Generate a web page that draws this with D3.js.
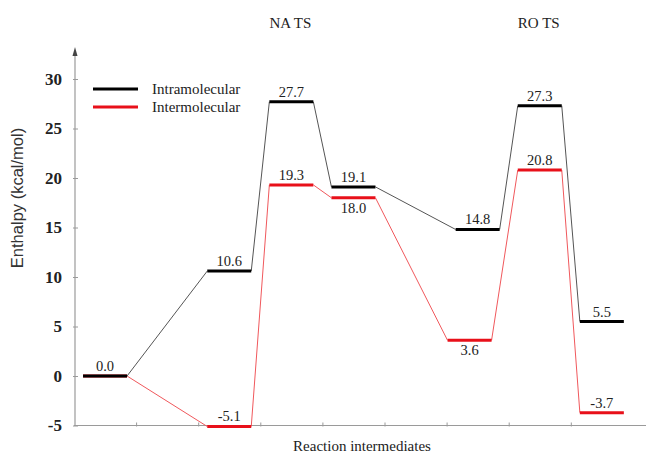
<!DOCTYPE html>
<html>
<head>
<meta charset="utf-8">
<script src="https://cdn.jsdelivr.net/npm/d3@7"></script>
<style>
  html, body { margin: 0; padding: 0; background: #fff; }
  svg { display: block; }
</style>
</head>
<body>
<svg id="chart" width="646" height="455"></svg>
<script>
// Reaction coordinate of each stationary point and its enthalpy (kcal/mol)
const stageNames = ["Reactant", "Int 1", "NA TS", "Int 2", "Int 3", "RO TS", "Product"];
const intraStages = [0, 2, 3, 4, 6, 7, 8];
const interStages = [0, 2, 3, 4, 5.87, 7, 8];
const intraValues = [0.0, 10.6, 27.7, 19.1, 14.8, 27.3, 5.5];
const interValues = [0.0, -5.1, 19.3, 18.0, 3.6, 20.8, -3.7];
// where each value label sits relative to its level
const intraLabelSide = ["above", "above", "above", "above", "above", "above", "above"];
const interLabelSide = ["none", "above", "above", "below", "below", "above", "above"];
const yTicks = [-5, 0, 5, 10, 15, 20, 25, 30];
const xTicks = [0.5, 1.5, 2.5, 3.5, 4.5, 5.5, 6.5, 7.5];
const seriesNames = ["Intramolecular", "Intermolecular"];
const tsStages = [3, 7];
const tsNames = ["NA TS", "RO TS"];

const SERIF = '"Liberation Serif"';
const SANS = '"Liberation Sans"';

const svg = d3.select("#chart");

const x = d3.scaleLinear().domain([-0.5, 8.5]).range([74, 632.9]);
const y = d3.scaleLinear().domain([-5, 30]).range([425.5, 79]);
const halfW = 22;

const axisColor = "#9a9a9a";

// axes
const yAxis = svg.append("g")
  .attr("transform", `translate(${x(-0.5) + 1},0)`)
  .call(d3.axisLeft(y).tickValues(yTicks).tickSize(3).tickSizeOuter(0).tickPadding(10)
    .tickFormat(d => String(d)));
yAxis.select(".domain").remove();
yAxis.attr("font-family", null).attr("font-size", null);
yAxis.selectAll(".tick line").attr("stroke", axisColor).attr("x1", 3).attr("x2", -2);
yAxis.selectAll(".tick text")
  .style("font-family", SERIF).style("font-weight", "bold").style("font-size", "17px")
  .attr("fill", "#222");

const xAxis = svg.append("g")
  .attr("transform", `translate(0,${y(-5)})`)
  .call(d3.axisBottom(x).tickValues(xTicks).tickSize(3).tickSizeOuter(0).tickFormat(""));
xAxis.select(".domain").remove();
xAxis.selectAll(".tick line").attr("stroke", axisColor).attr("y1", -3).attr("y2", 1);

svg.append("line")
  .attr("x1", x(-0.5) + 1).attr("x2", x(-0.5) + 1)
  .attr("y1", y(-5)).attr("y2", 52)
  .attr("stroke", axisColor).attr("stroke-width", 1.2);
svg.append("path")
  .attr("d", `M${x(-0.5) + 1},47 L${x(-0.5) - 1.5},56 L${x(-0.5) + 3.5},56 Z`)
  .attr("fill", "#444");
svg.append("line")
  .attr("x1", x(-0.5)).attr("x2", 646)
  .attr("y1", y(-5)).attr("y2", y(-5))
  .attr("stroke", axisColor).attr("stroke-width", 1.2);

// axis titles
svg.append("text")
  .attr("transform", "translate(23,198) rotate(-90)")
  .attr("text-anchor", "middle")
  .style("font-family", SANS).style("font-size", "16.5px")
  .attr("fill", "#333")
  .text("Enthalpy (kcal/mol)");

svg.append("text")
  .attr("x", 362).attr("y", 451)
  .attr("text-anchor", "middle")
  .style("font-family", SERIF).style("font-size", "15px")
  .attr("fill", "#222")
  .text("Reaction intermediates");

// transition state headings
svg.selectAll(".ts").data(tsStages).enter().append("text")
  .attr("x", s => x(s) - 1).attr("y", 28)
  .attr("text-anchor", "middle")
  .style("font-family", SERIF).style("font-size", "15px")
  .attr("fill", "#222")
  .text((s, i) => tsNames[i]);

// draws one energy profile: thin connectors, thick levels, value labels
function drawProfile(stages, values, sides, levelColor, linkColor) {
  const g = svg.append("g");
  const pts = stages.map((s, i) => ({ s, v: values[i], side: sides[i] }));
  for (let i = 0; i < pts.length - 1; i++) {
    g.append("line")
      .attr("x1", x(pts[i].s) + halfW).attr("y1", y(pts[i].v))
      .attr("x2", x(pts[i + 1].s) - halfW).attr("y2", y(pts[i + 1].v))
      .attr("stroke", linkColor).attr("stroke-width", 1);
  }
  g.selectAll(".lvl").data(pts).enter().append("line")
    .attr("x1", d => x(d.s) - halfW).attr("x2", d => x(d.s) + halfW)
    .attr("y1", d => y(d.v)).attr("y2", d => y(d.v))
    .attr("stroke", levelColor).attr("stroke-width", 3);
  g.selectAll(".lbl").data(pts.filter(d => d.side !== "none")).enter().append("text")
    .attr("x", d => x(d.s))
    .attr("y", d => d.side === "above" ? y(d.v) - 5 : y(d.v) + 15)
    .attr("text-anchor", "middle")
    .style("font-family", SERIF).style("font-size", "14.5px")
    .attr("fill", "#222")
    .text(d => d.v.toFixed(1));
}

drawProfile(interStages, interValues, interLabelSide, "#e8101a", "#f0585c");
drawProfile(intraStages, intraValues, intraLabelSide, "#000", "#555");

// legend
const legendColors = ["#000", "#e8101a"];
const legend = svg.append("g");
seriesNames.forEach((name, i) => {
  const ly = 89 + i * 18;
  legend.append("line")
    .attr("x1", 93).attr("x2", 138).attr("y1", ly).attr("y2", ly)
    .attr("stroke", legendColors[i]).attr("stroke-width", 3);
  legend.append("text")
    .attr("x", 152).attr("y", ly + 5)
    .style("font-family", SERIF).style("font-size", "15px")
    .attr("fill", "#222")
    .text(name);
});
</script>
</body>
</html>
